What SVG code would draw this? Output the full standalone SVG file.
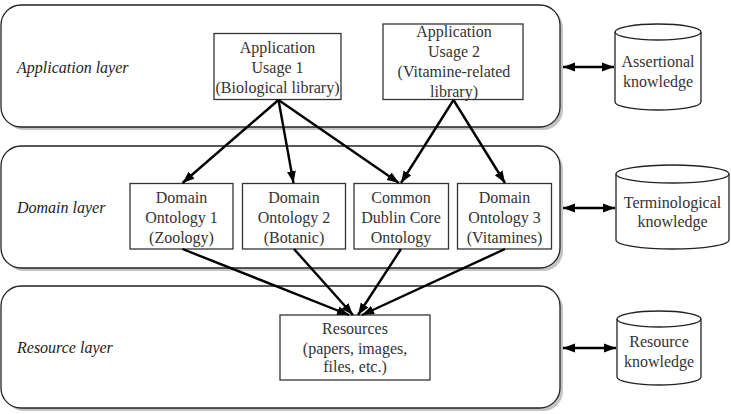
<svg xmlns="http://www.w3.org/2000/svg" width="731" height="414" viewBox="0 0 731 414">
<defs>
<marker id="ah" viewBox="0 0 12 10" refX="12" refY="5" markerWidth="12" markerHeight="10" markerUnits="userSpaceOnUse" orient="auto-start-reverse">
<path d="M0,0.5 L12,5 L0,9.5 Z" fill="#000"/>
</marker>
</defs>
<style>
text{font-family:"Liberation Serif","Times New Roman",serif;font-size:16px;fill:#333;text-anchor:middle}
.lbl{font-style:italic;text-anchor:start;fill:#222}
.layer{fill:#fff;stroke:#222;stroke-width:1.3}
.shadow{fill:#c4c4c4}
.box{fill:#fff;stroke:#333;stroke-width:1.3}
.cyl{fill:#fff;stroke:#222;stroke-width:1.3}
.conn line{stroke:#000;stroke-width:2.4;fill:none;marker-end:url(#ah)}
.conn line.dbl{marker-start:url(#ah)}
</style>
<g id="layer-application">
<rect class="shadow" x="4" y="8" width="559" height="122" rx="20"/>
<rect class="layer" x="1" y="5" width="559" height="122" rx="20"/>
<text class="lbl" x="17" y="73">Application layer</text>
</g>
<g id="layer-domain">
<rect class="shadow" x="4" y="149" width="559" height="122" rx="20"/>
<rect class="layer" x="1" y="146" width="559" height="122" rx="20"/>
<text class="lbl" x="17" y="213">Domain layer</text>
</g>
<g id="layer-resource">
<rect class="shadow" x="4" y="289" width="559" height="122" rx="20"/>
<rect class="layer" x="1" y="286" width="559" height="122" rx="20"/>
<text class="lbl" x="17" y="353">Resource layer</text>
</g>
<g id="app1">
<rect class="box" x="214" y="33.5" width="127" height="66"/>
<text x="277.5" y="53">Application</text>
<text x="277.5" y="73">Usage 1</text>
<text x="277.5" y="93">(Biological library)</text>
</g>
<g id="app2">
<rect class="box" x="383" y="24" width="140" height="75.5"/>
<text x="454" y="37">Application</text>
<text x="454" y="57">Usage 2</text>
<text x="454" y="77">(Vitamine-related</text>
<text x="454" y="97">library)</text>
</g>
<g id="do1">
<rect class="box" x="130" y="183.5" width="103" height="65.5"/>
<text x="181.5" y="203">Domain</text>
<text x="181.5" y="223">Ontology 1</text>
<text x="181.5" y="243">(Zoology)</text>
</g>
<g id="do2">
<rect class="box" x="242.5" y="183.5" width="103" height="65.5"/>
<text x="294" y="203">Domain</text>
<text x="294" y="223">Ontology 2</text>
<text x="294" y="243">(Botanic)</text>
</g>
<g id="dc">
<rect class="box" x="354" y="183.5" width="94.5" height="65.5"/>
<text x="401" y="203">Common</text>
<text x="401" y="223">Dublin Core</text>
<text x="401" y="243">Ontology</text>
</g>
<g id="do3">
<rect class="box" x="457.5" y="183.5" width="94" height="65.5"/>
<text x="504.5" y="203">Domain</text>
<text x="504.5" y="223">Ontology 3</text>
<text x="504.5" y="243">(Vitamines)</text>
</g>
<g id="resources">
<rect class="box" x="280" y="315" width="150" height="65"/>
<text x="355" y="334">Resources</text>
<text x="355" y="354">(papers, images,</text>
<text x="355" y="372">files, etc.)</text>
</g>
<g id="kb-assertional">
<path class="cyl" d="M615,32 L615,102 A43,8 0 0 0 701,102 L701,32"/>
<ellipse class="cyl" cx="658" cy="32" rx="43" ry="8"/>
<text x="658" y="67">Assertional</text>
<text x="658" y="87">knowledge</text>
</g>
<g id="kb-terminological">
<path class="cyl" d="M616,174 L616,240 A56.5,9 0 0 0 729,240 L729,174"/>
<ellipse class="cyl" cx="672.5" cy="174" rx="56.5" ry="9"/>
<text x="672.5" y="208">Terminological</text>
<text x="672.5" y="227">knowledge</text>
</g>
<g id="kb-resource">
<path class="cyl" d="M617,319 L617,377 A42,8 0 0 0 701,377 L701,319"/>
<ellipse class="cyl" cx="659" cy="319" rx="42" ry="8"/>
<text x="659" y="347">Resource</text>
<text x="659" y="367">knowledge</text>
</g>
<g id="connectors" class="conn">
<line x1="278.5" y1="100" x2="182.5" y2="183"/>
<line x1="278.5" y1="100" x2="293.5" y2="183"/>
<line x1="278.5" y1="100" x2="399" y2="183"/>
<line x1="453.5" y1="100" x2="401" y2="183"/>
<line x1="453.5" y1="100" x2="505" y2="183"/>
<line x1="182.5" y1="249" x2="349" y2="315"/>
<line x1="294" y1="249" x2="353" y2="315"/>
<line x1="401" y1="249" x2="358" y2="315"/>
<line x1="505" y1="249" x2="362" y2="315"/>
<line class="dbl" x1="563" y1="67" x2="614" y2="67"/>
<line class="dbl" x1="563" y1="208" x2="615" y2="208"/>
<line class="dbl" x1="563" y1="348" x2="616" y2="348"/>
</g>
</svg>
